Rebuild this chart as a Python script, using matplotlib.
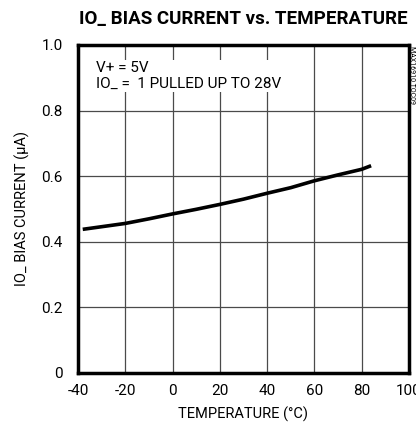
import matplotlib
matplotlib.use('Agg')
import matplotlib.pyplot as plt

plt.rcParams['font.family'] = ['Roboto', 'DejaVu Sans']
plt.rcParams['axes.unicode_minus'] = False

# curve
temp = [-38, -30, -20, -10, 0, 10, 20, 30, 40, 50, 60, 70, 80, 84]
bias = [0.438, 0.446, 0.456, 0.470, 0.485, 0.499, 0.514, 0.530, 0.548, 0.565, 0.586, 0.604, 0.621, 0.632]

xticks = [-40, -20, 0, 20, 40, 60, 80, 100]
yticks = [0, 0.2, 0.4, 0.6, 0.8, 1.0]
ytick_labels = ['0', '0.2', '0.4', '0.6', '0.8', '1.0']

fig = plt.figure(figsize=(4.16, 4.36), dpi=100)
ax = fig.add_axes([0.1875, 0.1445, 0.7955, 0.7523])

ax.plot(temp, bias, color='black', lw=2.6, solid_capstyle='butt')

ax.set_xlim(-40, 100)
ax.set_ylim(0, 1.0)
ax.set_xticks(xticks)
ax.set_yticks(yticks)
ax.set_yticklabels(ytick_labels)
ax.tick_params(length=0, labelsize=11)
ax.tick_params(axis='x', pad=8)
ax.tick_params(axis='y', pad=11)
ax.grid(True, color='#4a4a4a', lw=0.9)
for s in ax.spines.values():
    s.set_linewidth(2.5)

ax.set_xlabel('TEMPERATURE (°C)', fontsize=10.5, labelpad=6)
ax.set_ylabel('IO_ BIAS CURRENT (µA)', fontsize=10.5, labelpad=8)

ax.text(0.055, 0.95, 'V+ = 5V\nIO_ =  1 PULLED UP TO 28V', transform=ax.transAxes,
        fontsize=11, va='top', ha='left', linespacing=1.1,
        bbox=dict(facecolor='white', edgecolor='none', pad=1))

fig.text(0.585, 0.957, 'IO_ BIAS CURRENT vs. TEMPERATURE', ha='center', va='center',
         fontsize=13.5, fontweight='bold')
fig.text(0.99, 0.895, 'MAX16910 TOC09', rotation=270, ha='center', va='top', fontsize=5)

fig.savefig('out.png', dpi=100)
